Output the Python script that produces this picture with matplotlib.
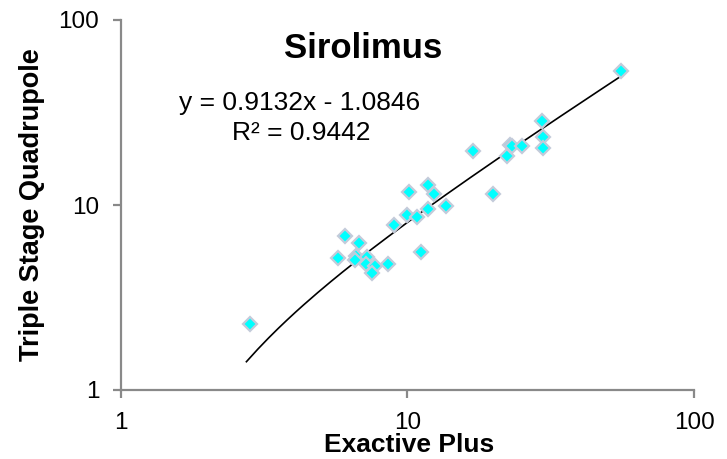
import numpy as np
import matplotlib
matplotlib.use("Agg")
import matplotlib.pyplot as plt

plt.rcParams['font.family'] = ['Liberation Sans', 'DejaVu Sans']

# Exactive Plus vs Triple Stage Quadrupole
exactive = [2.83, 5.75, 6.06, 6.62, 6.57, 6.80, 7.22, 7.16, 7.71, 7.55,
            8.55, 8.97, 9.98, 10.1, 10.8, 11.2, 11.8, 11.8, 12.4, 13.6,
            17.0, 19.95, 22.3, 22.9, 23.2, 25.1, 29.4, 29.8, 29.7, 55.7]
triple_quad = [2.27, 5.17, 6.83, 5.32, 5.02, 6.23, 5.23, 4.82, 4.70, 4.29,
               4.80, 7.83, 8.87, 11.8, 8.62, 5.57, 12.8, 9.56, 11.4, 9.89,
               19.5, 11.5, 18.4, 21.2, 20.8, 20.8, 28.4, 23.3, 20.4, 52.9]

slope = 0.9132
intercept = -1.0846
r_squared = 0.9442

W, H = 727, 459
fig = plt.figure(figsize=(W / 100, H / 100), dpi=100)
# plot area in pixels: x 120.7..694, y 20..390
ax = fig.add_axes([120.7 / W, 1 - 390 / H, (694 - 120.7) / W, (390 - 20) / H])

ax.set_xscale('log')
ax.set_yscale('log')
ax.set_xlim(1, 100)
ax.set_ylim(1, 100)

# linear trendline drawn over the data range
xs = np.linspace(min(exactive) * 0.97, max(exactive), 200)
ax.plot(xs, slope * xs + intercept, color='black', lw=1.2, zorder=2)

ax.plot(exactive, triple_quad, linestyle='none', marker='D', ms=7,
        markerfacecolor='#00FFFF', markeredgecolor='#C3CBDA', mew=1.6, zorder=3)

for side in ['top', 'right']:
    ax.spines[side].set_visible(False)
for side in ['left', 'bottom']:
    ax.spines[side].set_color('#898989')
    ax.spines[side].set_linewidth(1.6)

ax.set_xticks([1, 10, 100])
ax.set_yticks([1, 10, 100])
ax.set_xticklabels(['1', '10', '100'])
ax.set_yticklabels(['1', '10', '100'])
ax.minorticks_off()
ax.tick_params(which='major', direction='out', length=5.5, width=1.6,
               color='#898989', labelsize=17.5, pad=10)

fig.text(409 / W, 1 - 445 / H, 'Exactive Plus', ha='center', va='center',
         fontsize=19, fontweight='bold')
fig.text(32 / W, 1 - 205 / H, 'Triple Stage Quadrupole', ha='center', va='center',
         rotation=90, fontsize=19.5, fontweight='bold')

fig.text(363 / W, 1 - 48 / H, 'Sirolimus', ha='center', va='center',
         fontsize=25, fontweight='bold')
fig.text(300 / W, 1 - 103 / H, 'y = %.4fx - %.4f' % (slope, -intercept),
         ha='center', va='center', fontsize=19)
fig.text(301 / W, 1 - 133 / H, 'R² = %.4f' % r_squared,
         ha='center', va='center', fontsize=19)

fig.savefig('out.png', dpi=100)
